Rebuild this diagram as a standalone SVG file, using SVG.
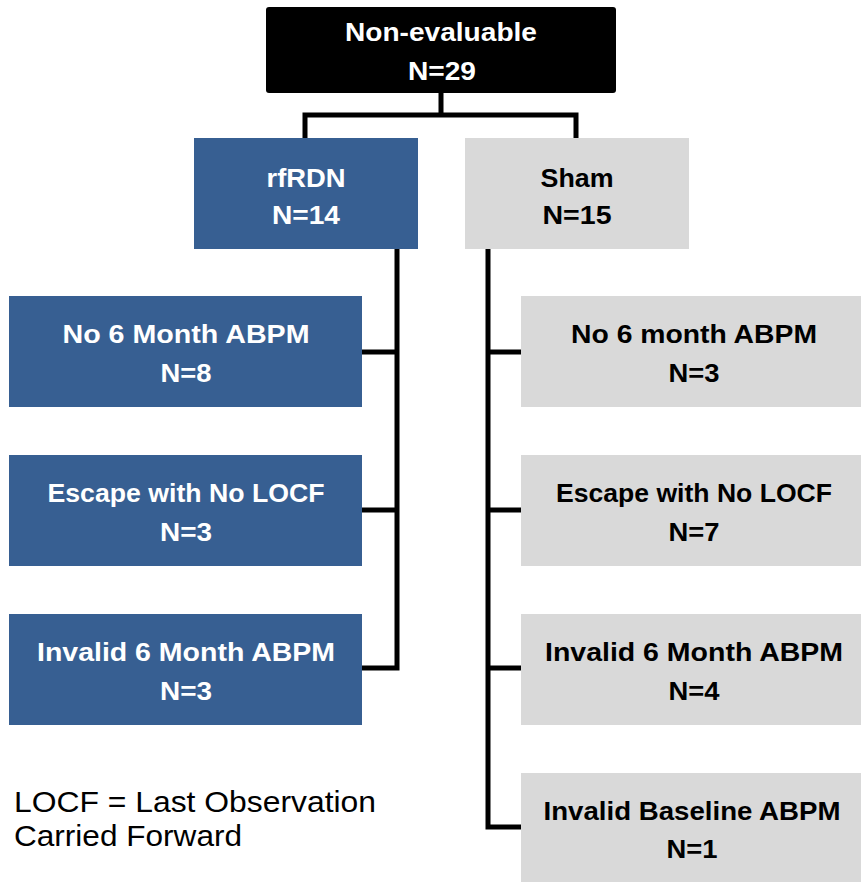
<svg xmlns="http://www.w3.org/2000/svg" width="861" height="882" viewBox="0 0 861 882">
<style>
.t{font-family:"Liberation Sans",Arial,sans-serif;font-weight:bold;font-size:26.5px;text-anchor:middle}
.w{fill:#ffffff}
.k{fill:#000000}
.blue{fill:#375F92}
.gray{fill:#D9D9D9}
.c{fill:none;stroke:#000;stroke-width:5;stroke-linejoin:miter}
.f{font-family:"Liberation Sans",Arial,sans-serif;font-size:30px;fill:#000}
</style>
<rect width="861" height="882" fill="#ffffff"/>
<g id="connectors">
<path class="c" d="M305,138 V115 H576 V138 M441,92 V115"/>
<path class="c" d="M397,249 V668 H362 M362,352 H397 M362,510 H397"/>
<path class="c" d="M488,249 V827 H521 M488,352 H521 M488,510 H521 M488,668 H521"/>
</g>
<g id="root">
<rect x="266" y="7" width="350" height="86" rx="3" fill="#000"/>
<text class="t w" x="441" y="41" textLength="192" lengthAdjust="spacingAndGlyphs">Non-evaluable</text>
<text class="t w" x="442" y="80" textLength="68" lengthAdjust="spacingAndGlyphs">N=29</text>
</g>
<g id="rfrdn">
<rect class="blue" x="194" y="138" width="224" height="111"/>
<text class="t w" x="306" y="187" textLength="79" lengthAdjust="spacingAndGlyphs">rfRDN</text>
<text class="t w" x="306" y="224" textLength="68" lengthAdjust="spacingAndGlyphs">N=14</text>
</g>
<g id="sham">
<rect class="gray" x="465" y="138" width="224" height="111"/>
<text class="t k" x="577" y="187" textLength="73" lengthAdjust="spacingAndGlyphs">Sham</text>
<text class="t k" x="577" y="224" textLength="69" lengthAdjust="spacingAndGlyphs">N=15</text>
</g>
<g id="l1">
<rect class="blue" x="9" y="296" width="353" height="111"/>
<text class="t w" x="186" y="343" textLength="247" lengthAdjust="spacingAndGlyphs">No 6 Month ABPM</text>
<text class="t w" x="186" y="382" textLength="51" lengthAdjust="spacingAndGlyphs">N=8</text>
</g>
<g id="l2">
<rect class="blue" x="9" y="455" width="353" height="111"/>
<text class="t w" x="186" y="502" textLength="277" lengthAdjust="spacingAndGlyphs">Escape with No LOCF</text>
<text class="t w" x="186" y="541" textLength="52" lengthAdjust="spacingAndGlyphs">N=3</text>
</g>
<g id="l3">
<rect class="blue" x="9" y="614" width="353" height="111"/>
<text class="t w" x="186" y="661" textLength="298" lengthAdjust="spacingAndGlyphs">Invalid 6 Month ABPM</text>
<text class="t w" x="186" y="700" textLength="52" lengthAdjust="spacingAndGlyphs">N=3</text>
</g>
<g id="r1">
<rect class="gray" x="521" y="296" width="340" height="111"/>
<text class="t k" x="694" y="343" textLength="246" lengthAdjust="spacingAndGlyphs">No 6 month ABPM</text>
<text class="t k" x="694" y="382" textLength="51" lengthAdjust="spacingAndGlyphs">N=3</text>
</g>
<g id="r2">
<rect class="gray" x="521" y="455" width="340" height="111"/>
<text class="t k" x="694" y="502" textLength="276" lengthAdjust="spacingAndGlyphs">Escape with No LOCF</text>
<text class="t k" x="694" y="541" textLength="51" lengthAdjust="spacingAndGlyphs">N=7</text>
</g>
<g id="r3">
<rect class="gray" x="521" y="614" width="340" height="111"/>
<text class="t k" x="694" y="661" textLength="298" lengthAdjust="spacingAndGlyphs">Invalid 6 Month ABPM</text>
<text class="t k" x="694" y="700" textLength="51" lengthAdjust="spacingAndGlyphs">N=4</text>
</g>
<g id="r4">
<rect class="gray" x="521" y="773" width="340" height="109"/>
<text class="t k" x="692" y="820" textLength="297" lengthAdjust="spacingAndGlyphs">Invalid Baseline ABPM</text>
<text class="t k" x="692" y="858" textLength="51" lengthAdjust="spacingAndGlyphs">N=1</text>
</g>
<g id="footnote">
<text class="f" x="14" y="812" textLength="362" lengthAdjust="spacingAndGlyphs">LOCF = Last Observation</text>
<text class="f" x="14" y="846" textLength="228" lengthAdjust="spacingAndGlyphs">Carried Forward</text>
</g>
</svg>
